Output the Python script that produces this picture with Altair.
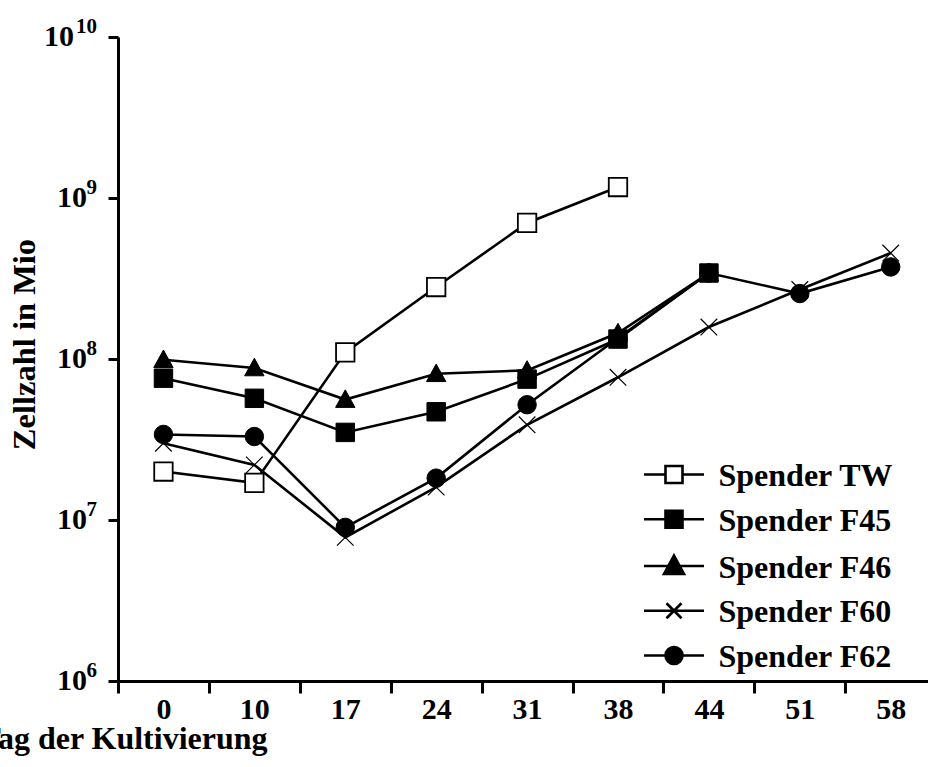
import json

import altair as alt
import pandas as pd

# Culture days (category axis) and cell counts per donor
days = ["0", "10", "17", "24", "31", "38", "44", "51", "58"]
series = ["Spender TW", "Spender F45", "Spender F46", "Spender F60", "Spender F62"]
tw = [2.0e7, 1.7e7, 1.1e8, 2.8e8, 7.0e8, 1.17e9]
f45 = [7.6e7, 5.7e7, 3.5e7, 4.7e7, 7.5e7, 1.33e8, 3.42e8]
f46 = [9.9e7, 8.8e7, 5.6e7, 8.1e7, 8.5e7, 1.45e8, 3.42e8]
f60 = [3.0e7, 2.2e7, 7.8e6, 1.6e7, 3.9e7, 7.7e7, 1.58e8, 2.7e8, 4.55e8]
f62 = [3.4e7, 3.3e7, 9.0e6, 1.82e7, 5.2e7, 1.35e8, 3.42e8, 2.55e8, 3.73e8]
decades = [6, 7, 8, 9, 10]

FONT = "Liberation Serif"

rows = []
for name, vals in zip(series, [tw, f45, f46, f60, f62]):
    for i, v in enumerate(vals):
        rows.append({"Spender": name, "idx": i, "Tag": days[i], "Zellzahl": v})
df = pd.DataFrame(rows)

ticks_df = pd.DataFrame({"exp": decades, "value": [10.0 ** e for e in decades]})
ticks_df["exp_txt"] = ticks_df["exp"].astype(str)

# marker shapes in the plot
x_path = "M-0.9,-0.9L0.9,0.9M-0.9,0.9L0.9,-0.9"
tri_path = "M0,-1.05L1.05,0.85L-1.05,0.85Z"
shapes = ["square", "square", tri_path, x_path, "circle"]
fills = ["white", "black", "black", "transparent", "black"]
stroke_w = [1.8, 1.0, 1.0, 1.2, 1.0]

# legend symbols: marker with a line running through it
dy = -0.15
def sq(a, b):
    return f"M-0.85,{a}H0.85V{b}H-0.85Z"
leg_shapes = [
    f"M-3,{dy}H-0.85M0.85,{dy}H3" + sq(dy - 0.85, dy + 0.85),
    f"M-3,{dy}H3" + sq(dy - 0.85, dy + 0.85),
    f"M-3,{dy}H3M0,{dy - 1.05}L1,{dy + 0.8}L-1,{dy + 0.8}Z",
    f"M-3,{dy}H3M-0.75,{dy - 0.75}L0.75,{dy + 0.75}M-0.75,{dy + 0.75}L0.75,{dy - 0.75}",
    f"M-3,{dy}H3M-0.85,{dy}A0.85,0.85 0 1,1 0.85,{dy}A0.85,0.85 0 1,1 -0.85,{dy}Z",
]
leg_fills = ["white", "black", "black", "black", "black"]

legend = alt.Legend(
    title=None,
    orient="none",
    legendX=540,
    legendY=423,
    padding=0,
    rowPadding=12.75,
    labelOffset=28.5,
    labelFont=FONT,
    labelFontSize=32,
    labelFontWeight="bold",
    labelColor="black",
    labelBaseline="middle",
    labelLimit=400,
    symbolSize=400,
    symbolStrokeWidth=2.6,
    symbolStrokeColor="black",
    symbolOpacity=1,
)

label_expr = json.dumps(days) + "[datum.value + 0.5]"

x_enc = alt.X(
    "idx:Q",
    scale=alt.Scale(domain=[-0.5, 8.41], nice=False, zero=False),
    axis=alt.Axis(
        values=[i - 0.5 for i in range(len(days))],
        labelExpr=label_expr,
        labelOffset=45.45,
        labelFlush=False,
        labelOverlap=False,
        labelBaseline="alphabetic",
        labelPadding=25,
        labelFontSize=30,
        tickSize=12,
        tickWidth=3,
        domainWidth=3,
        grid=False,
        title="Tag der Kultivierung",
        titleAnchor="start",
        titleAlign="left",
        titleBaseline="alphabetic",
        titleX=-139,
        titleY=67,
        titleFontSize=32,
    ),
)

y_scale = alt.Scale(type="log", domain=[1e6, 1e10], nice=False)
y_enc = alt.Y(
    "Zellzahl:Q",
    scale=y_scale,
    axis=alt.Axis(
        values=[10.0 ** e for e in decades],
        labels=False,
        tickSize=10,
        tickWidth=3,
        domainWidth=3,
        grid=False,
        title="Zellzahl in Mio",
        titleAngle=-90,
        titleAlign="center",
        titleBaseline="alphabetic",
        titleX=-84,
        titleY=307,
        titleFontSize=32.5,
    ),
)

lines = alt.Chart(df).mark_line(color="black", strokeWidth=2.6).encode(
    x=x_enc, y=y_enc, detail="Spender:N", order="idx:Q"
)

# one marker layer per donor
point_layers = []
for name, shp, fil, sw in zip(series, shapes, fills, stroke_w):
    point_layers.append(
        alt.Chart(df)
        .transform_filter(alt.datum.Spender == name)
        .mark_point(shape=shp, fill=fil, stroke="black", strokeWidth=sw,
                    size=340, opacity=1, filled=True)
        .encode(x=x_enc, y=y_enc)
    )

# legend-only layer: no rows drawn, its scales feed the legend
legend_layer = (
    alt.Chart(df)
    .transform_filter("false")
    .mark_point(opacity=1, size=400, strokeWidth=2.6)
    .encode(
        x=x_enc,
        y=y_enc,
        shape=alt.Shape("Spender:N", scale=alt.Scale(domain=series, range=leg_shapes), legend=legend),
        fill=alt.Fill("Spender:N", scale=alt.Scale(domain=series, range=leg_fills), legend=legend),
        stroke=alt.Stroke("Spender:N", scale=alt.Scale(domain=series, range=["black"] * 5), legend=legend),
    )
)

# y tick labels as 10 with a raised exponent
base_common = dict(font=FONT, fontSize=30, fontWeight="bold", align="right",
                   baseline="alphabetic", dy=8.5, color="black")
base_single = alt.Chart(ticks_df).transform_filter("datum.exp < 10").mark_text(
    text="10", **base_common
).encode(x=alt.value(-31), y=alt.Y("value:Q", scale=y_scale))
base_double = alt.Chart(ticks_df).transform_filter("datum.exp >= 10").mark_text(
    text="10", **base_common
).encode(x=alt.value(-44), y=alt.Y("value:Q", scale=y_scale))
expo = alt.Chart(ticks_df).mark_text(
    font=FONT, fontSize=21, fontWeight="bold", align="right",
    baseline="alphabetic", dy=-4, color="black"
).encode(x=alt.value(-21), y=alt.Y("value:Q", scale=y_scale), text="exp_txt:N")

chart = (
    alt.layer(lines, *point_layers, legend_layer, base_single, base_double, expo)
    .properties(
        width=810,
        height=644,
        autosize=alt.AutoSizeParams(type="none"),
        padding={"left": 118, "top": 37, "right": 0, "bottom": 86},
        background="white",
    )
    .configure_view(stroke=None)
    .configure_axis(
        labelFont=FONT,
        labelFontWeight="bold",
        labelColor="black",
        titleFont=FONT,
        titleFontWeight="bold",
        titleColor="black",
        domainColor="black",
        tickColor="black",
    )
)

chart.save("out.html", embed_options={"renderer": "svg", "actions": False})
